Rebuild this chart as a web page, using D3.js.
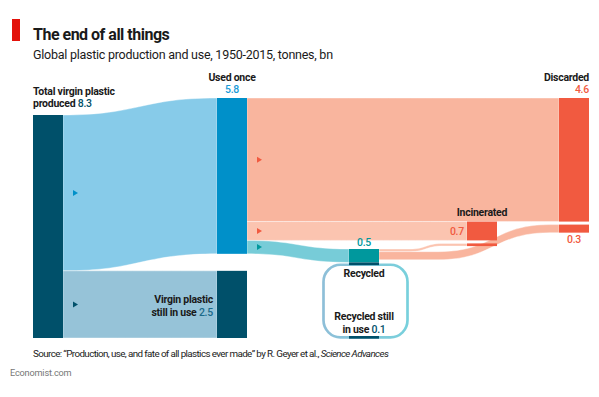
<!DOCTYPE html>
<html>
<head>
<meta charset="utf-8">
<script src="https://cdn.jsdelivr.net/npm/d3@7"></script>
<style>
  body { margin: 0; background: #fff; }
  svg { display: block; font-family: Roboto, "Noto Sans", sans-serif; }
</style>
</head>
<body>
<div id="chart"></div>
<script>
// nodes of the flow diagram
const nodeIds = ["produced", "used", "stock", "discarded", "incinerated", "recycled", "recStock"];
const nodeLabels = [
  ["Total virgin plastic", "produced"],
  ["Used once"],
  ["Virgin plastic", "still in use"],
  ["Discarded"],
  ["Incinerated"],
  ["Recycled"],
  ["Recycled still", "in use"]
];
const nodeValues = [8.3, 5.8, 2.5, 4.6, 0.7, 0.5, 0.1];

// flows, tonnes bn
const flowFrom = ["produced", "produced", "used", "used", "used", "recycled", "recycled", "recycled"];
const flowTo = ["used", "stock", "discarded", "incinerated", "recycled", "incinerated", "discarded", "recStock"];
const flowValues = [5.8, 2.5, 4.6, 0.7, 0.5, 0.1, 0.3, 0.1];

const width = 599, height = 397;
const nodeW = 30;

const svg = d3.select("#chart")
  .append("svg")
  .attr("width", width)
  .attr("height", height);

// value -> pixel thickness
const y = d3.scaleLinear()
  .domain([0, 8.3])
  .range([0, 223]);

// column positions
const nodeX = { produced: 33, used: 217, stock: 217, recycled: 349, recStock: 349, incinerated: 467, discarded: 559 };
const nodeTop = { produced: 115, used: 98, discarded: 98, recycled: 249, recStock: 336 };
nodeTop.stock = nodeTop.produced + y(nodeValues[1]);
nodeTop.incinerated = nodeTop.discarded + y(nodeValues[3]);

const nodeColor = { produced: "#00506a", used: "#0090c9", stock: "#00506a", discarded: "#f15a40",
  incinerated: "#f15a40", recycled: "#00989d", recStock: "#00506a" };
const valueColor = { produced: "#00506a", used: "#1a9bd7", stock: "#1b6a8a", discarded: "#f15a40",
  incinerated: "#f15a40", recycled: "#00989d", recStock: "#00506a" };

const flowColor = ["#87cbe9", "#96c3d8", "#f9b59e", "#fbc4b0", "#77ccd8", "#fbc4b0", "#f9b59e", null];
const arrowColor = ["#0090c9", "#00506a", "#f15a40", "#f15a40", "#00989d", null, null, null];
// where the bend of a flow starts and ends (null = whole span)
const bend = [null, null, null, null, null, [410, 442], [438, 550], null];

// build links and stack them on their nodes
const links = flowValues.map((v, i) => ({ i, source: flowFrom[i], target: flowTo[i], value: v }));
const srcOff = {}, tgtOff = {}, lastSrc = {};
links.forEach(l => {
  if (srcOff[l.source] === undefined) srcOff[l.source] = nodeTop[l.source];
  l.s0 = srcOff[l.source];
  l.s1 = l.s0 + y(l.value);
  srcOff[l.source] = l.s1;
});
// targets stacked in order of the source column (used once first, recycled after)
const order = ["produced", "used", "recycled"];
order.forEach(src => {
  links.filter(l => l.source === src).forEach(l => {
    if (tgtOff[l.target] === undefined) tgtOff[l.target] = nodeTop[l.target];
    else if (lastSrc[l.target] !== l.source) tgtOff[l.target] += 3;
    lastSrc[l.target] = l.source;
    l.t0 = tgtOff[l.target];
    l.t1 = l.t0 + y(l.value);
    tgtOff[l.target] = l.t1;
  });
});

const ribbon = (sx, tx, s0, s1, t0, t1, c0, c1) => {
  const m = (c0 + c1) / 2;
  return `M${sx},${s0}L${c0},${s0}C${m},${s0} ${m},${t0} ${c1},${t0}L${tx},${t0}` +
    `L${tx},${t1}L${c1},${t1}C${m},${t1} ${m},${s1} ${c0},${s1}L${sx},${s1}Z`;
};

// gradient for the recycling loop
const defs = svg.append("defs");
const grad = defs.append("linearGradient").attr("id", "loop-grad")
  .attr("x1", "0%").attr("x2", "100%").attr("y1", "0%").attr("y2", "0%");
grad.append("stop").attr("offset", "0%").attr("stop-color", "#8ebfd8");
grad.append("stop").attr("offset", "100%").attr("stop-color", "#78d0dc");

// Add flows
const ribbons = links.filter(l => l.target !== "recStock");
svg.append("g")
  .selectAll("path")
  .data(ribbons)
  .join("path")
  .attr("fill", l => flowColor[l.i])
  .attr("stroke", "#fff")
  .attr("stroke-width", 0.4)
  .attr("d", l => {
    const sx = nodeX[l.source] + nodeW, tx = nodeX[l.target];
    const b = bend[l.i] || [sx, tx];
    return ribbon(sx, tx, l.s0, l.s1, l.t0, l.t1, b[0], b[1]);
  });

// Add recycling loop (recycled still in use)
const loop = links.find(l => l.target === "recStock");
const lw = y(loop.value);
const loopTop = loop.s1 + lw / 2 + 1, loopBot = nodeTop.recStock + lw / 2;
svg.append("rect")
  .attr("x", 323.5)
  .attr("y", loopTop)
  .attr("width", 84)
  .attr("height", loopBot - loopTop)
  .attr("rx", 17)
  .attr("fill", "none")
  .attr("stroke", "url(#loop-grad)")
  .attr("stroke-width", lw);

// Add nodes
const bars = [];
nodeIds.forEach((id, k) => {
  const inc = links.filter(l => l.target === id);
  if (id === "produced") bars.push({ id, y0: nodeTop[id], y1: nodeTop[id] + y(nodeValues[k]) });
  else if (id === "recStock") bars.push({ id, y0: nodeTop[id], y1: nodeTop[id] + y(nodeValues[k]) });
  else inc.forEach(l => bars.push({ id, y0: l.t0, y1: l.t1 }));
});
// small dark cap where the loop leaves the recycled node
bars.push({ id: "recStock", y0: loop.s1, y1: loop.s1 + lw, x: nodeX.recycled });

svg.append("g")
  .selectAll("rect")
  .data(bars)
  .join("rect")
  .attr("x", d => d.x !== undefined ? d.x : nodeX[d.id])
  .attr("y", d => d.y0)
  .attr("width", nodeW)
  .attr("height", d => d.y1 - d.y0)
  .attr("fill", d => nodeColor[d.id]);

// Add arrows
svg.append("g")
  .selectAll("path")
  .data(links.filter(l => arrowColor[l.i]))
  .join("path")
  .attr("fill", l => arrowColor[l.i])
  .attr("d", l => {
    const ax = nodeX[l.source] + nodeW + 10, ay = (l.s0 + l.s1) / 2;
    return `M${ax},${ay - 3}L${ax + 5},${ay}L${ax},${ay + 3}Z`;
  });

// Labels
const labelPos = {
  produced: { x: 33, y: 94.5, anchor: "start", valueInline: true },
  used: { x: 232, y: 81, anchor: "middle", valueInline: false },
  stock: { x: 213, y: 303, anchor: "end", valueInline: true },
  discarded: { x: 589, y: 81, anchor: "end", valueInline: false },
  recycled: { x: 364, y: 276.5, anchor: "middle", value: [364, 246, "middle"] },
  incinerated: { x: 482, y: 216, anchor: "middle", value: [464, 235, "end"] },
  recStock: { x: 364, y: 320, anchor: "middle", valueInline: true }
};
const lineH = 12.5;
const labels = svg.append("g").attr("font-size", 10.5).attr("letter-spacing", -0.25);
nodeIds.forEach((id, k) => {
  const p = labelPos[id];
  const lines = nodeLabels[k];
  const t = labels.append("text")
    .attr("x", p.x).attr("y", p.y)
    .attr("text-anchor", p.anchor)
    .attr("fill", "#1a1a1a")
    .attr("font-weight", 700);
  lines.forEach((ln, j) => {
    t.append("tspan").attr("x", p.x).attr("dy", j === 0 ? 0 : lineH).text(ln);
    if (p.valueInline && j === lines.length - 1) {
      t.append("tspan").attr("fill", valueColor[id]).attr("font-weight", 500).text(" " + nodeValues[k]);
    }
  });
  if (p.value) {
    labels.append("text")
      .attr("x", p.value[0]).attr("y", p.value[1])
      .attr("text-anchor", p.value[2])
      .attr("fill", valueColor[id])
      .attr("font-weight", 500)
      .text(nodeValues[k]);
  } else if (!p.valueInline) {
    labels.append("text")
      .attr("x", p.x).attr("y", p.y + lineH - 0.5)
      .attr("text-anchor", p.anchor)
      .attr("fill", valueColor[id])
      .attr("font-weight", 500)
      .text(nodeValues[k]);
  }
});

// recycled into discarded, labelled under the bar
const rd = links.find(l => l.source === "recycled" && l.target === "discarded");
labels.append("text")
  .attr("x", nodeX.discarded + nodeW / 2)
  .attr("y", rd.t1 + 10.5)
  .attr("text-anchor", "middle")
  .attr("fill", "#f15a40")
  .attr("font-weight", 500)
  .text(rd.value);

// Title block
svg.append("rect").attr("x", 12).attr("y", 19).attr("width", 8).attr("height", 22).attr("fill", "#e3120b");
svg.append("text").attr("x", 33).attr("y", 39.5)
  .attr("font-size", 16).attr("font-weight", 700).attr("fill", "#1a1a1a")
  .attr("letter-spacing", -0.5)
  .text("The end of all things");
svg.append("text").attr("x", 33).attr("y", 58.5)
  .attr("font-size", 12.5).attr("fill", "#1a1a1a")
  .attr("letter-spacing", -0.25)
  .text("Global plastic production and use, 1950-2015, tonnes, bn");

const src = svg.append("text").attr("x", 33).attr("y", 357)
  .attr("font-size", 9.8).attr("fill", "#1a1a1a")
  .attr("letter-spacing", -0.6);
src.append("tspan").text("Source: “Production, use, and fate of all plastics ever made” by R. Geyer et al., ");
src.append("tspan").attr("font-style", "italic").text("Science Advances");

svg.append("text").attr("x", 10).attr("y", 376)
  .attr("font-size", 9.2).attr("fill", "#777")
  .attr("letter-spacing", -0.2)
  .text("Economist.com");
</script>
</body>
</html>
